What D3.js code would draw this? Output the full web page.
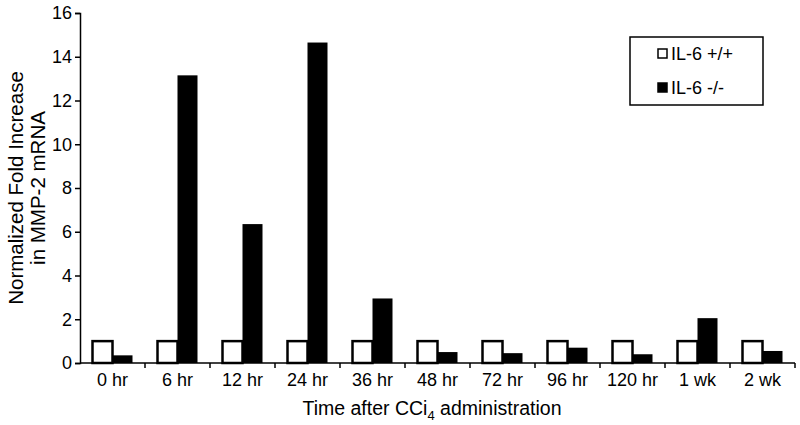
<!DOCTYPE html>
<html>
<head>
<meta charset="utf-8">
<script src="https://cdn.jsdelivr.net/npm/d3@7"></script>
<style>
  body { margin: 0; background: #fff; }
  text { font-family: "Liberation Sans", Arial, sans-serif; fill: #000; }
</style>
</head>
<body>
<svg id="chart" width="800" height="425"></svg>
<script>
const categories = ['0 hr', '6 hr', '12 hr', '24 hr', '36 hr', '48 hr', '72 hr', '96 hr', '120 hr', '1 wk', '2 wk']
const wildType = [1, 1, 1, 1, 1, 1, 1, 1, 1, 1, 1]
const knockout = [0.35, 13.15, 6.35, 14.65, 2.95, 0.5, 0.45, 0.7, 0.4, 2.05, 0.55]
const seriesNames = ['IL-6 +/+', 'IL-6 -/-']
const yTicks = [0, 2, 4, 6, 8, 10, 12, 14, 16]

const svg = d3.select('#chart')
const mLeft = 80, mRight = 795, mTop = 13, mBottom = 363

const x = d3.scaleBand().domain(categories).range([mLeft, mRight])
const y = d3.scaleLinear().domain([0, 16]).range([mBottom, mTop])
const bw = 20

// bars
const groups = svg.selectAll('g.cat')
  .data(categories)
  .join('g')
  .attr('class', 'cat')

groups.append('rect')
  .attr('x', (d) => x(d) + x.bandwidth() / 2 - bw)
  .attr('y', (d, i) => y(wildType[i]))
  .attr('width', bw)
  .attr('height', (d, i) => y(0) - y(wildType[i]))
  .attr('fill', '#fff')
  .attr('stroke', '#000')
  .attr('stroke-width', 2.5)

groups.append('rect')
  .attr('x', (d) => x(d) + x.bandwidth() / 2)
  .attr('y', (d, i) => y(knockout[i]))
  .attr('width', bw)
  .attr('height', (d, i) => y(0) - y(knockout[i]))
  .attr('fill', '#000')

// y axis
const yAxis = svg.append('g')
  .attr('transform', `translate(${mLeft},0)`)
  .call(d3.axisLeft(y).tickValues(yTicks).tickSize(5).tickPadding(3))
yAxis.select('.domain').attr('stroke', '#000').attr('stroke-width', 1.5)
yAxis.selectAll('.tick line').attr('stroke', '#000').attr('stroke-width', 1.5)
yAxis.selectAll('.tick text').attr('font-size', 18).attr('font-family', 'Liberation Sans, Arial, sans-serif').attr('fill', '#000')

// x axis: ticks at category boundaries
svg.append('line')
  .attr('x1', mLeft).attr('x2', mRight)
  .attr('y1', mBottom).attr('y2', mBottom)
  .attr('stroke', '#000').attr('stroke-width', 1.5)

const bounds = categories.map((d) => x(d) + x.bandwidth())
svg.selectAll('line.xtick')
  .data(bounds)
  .join('line')
  .attr('class', 'xtick')
  .attr('x1', (d) => d).attr('x2', (d) => d)
  .attr('y1', mBottom).attr('y2', mBottom + 5)
  .attr('stroke', '#000').attr('stroke-width', 1.5)

svg.selectAll('text.xlab')
  .data(categories)
  .join('text')
  .attr('class', 'xlab')
  .attr('x', (d) => x(d) + x.bandwidth() / 2)
  .attr('y', mBottom + 23)
  .attr('text-anchor', 'middle')
  .attr('font-size', 18)
  .text((d) => d)

// axis titles
const xt = svg.append('text')
  .attr('x', 432)
  .attr('y', 415)
  .attr('text-anchor', 'middle')
  .attr('font-size', 19.5)
xt.append('tspan').text('Time after CCi')
xt.append('tspan').attr('font-size', 13).attr('dy', 5).text('4')
xt.append('tspan').attr('dy', -5).text(' administration')

const yt = svg.append('text')
  .attr('transform', 'translate(23,188) rotate(-90)')
  .attr('text-anchor', 'middle')
  .attr('font-size', 20.5)
yt.append('tspan').attr('x', 0).attr('dy', 0).text('Normalized Fold Increase')
yt.append('tspan').attr('x', 0).attr('dy', 22).text('in MMP-2 mRNA')

// legend
const lg = svg.append('g').attr('transform', 'translate(630,37)')
lg.append('rect')
  .attr('width', 133).attr('height', 68)
  .attr('fill', '#fff').attr('stroke', '#000').attr('stroke-width', 1.5)

const items = lg.selectAll('g.item')
  .data(seriesNames)
  .join('g')
  .attr('class', 'item')
  .attr('transform', (d, i) => `translate(28,${17 + i * 34})`)

items.append('rect')
  .attr('x', 0).attr('y', -5)
  .attr('width', 9).attr('height', 9)
  .attr('fill', (d, i) => (i === 0 ? '#fff' : '#000'))
  .attr('stroke', '#000').attr('stroke-width', 1.5)

items.append('text')
  .attr('x', 13)
  .attr('dy', '0.35em')
  .attr('font-size', 18)
  .text((d) => d)
</script>
</body>
</html>
